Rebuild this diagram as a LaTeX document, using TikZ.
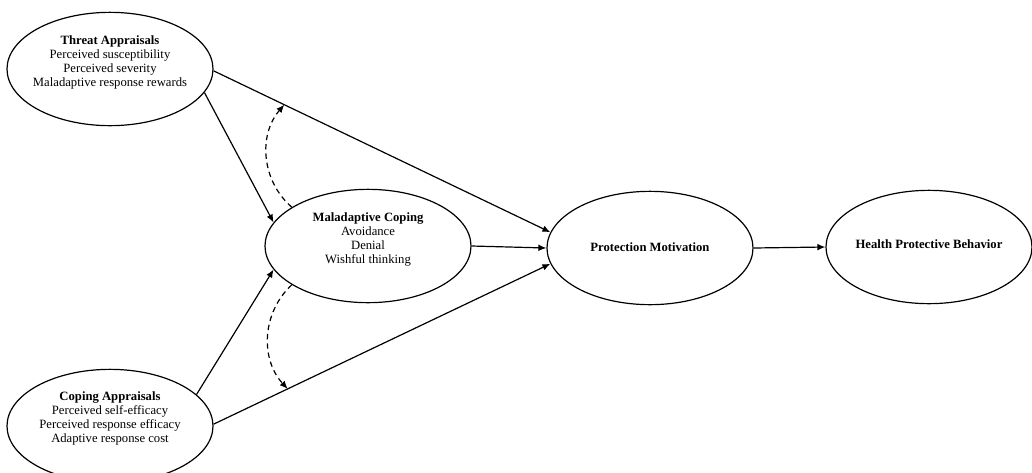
\documentclass[tikz,border=0pt]{standalone}
\usepackage{fontspec}
\setmainfont{Liberation Serif}
\usetikzlibrary{shapes.geometric,arrows.meta}
\begin{document}
\begin{tikzpicture}[x=0.75pt,y=-0.75pt,
  ell/.style={draw,ellipse,line width=0.9pt,minimum width=154.5pt,minimum height=85pt,inner sep=0pt},
  lbl/.style={align=center,font=\fontsize{9.5}{10.5}\selectfont,inner sep=0pt},
  arr/.style={line width=0.9pt,-{Latex[length=6pt,width=5pt]}},
  darr/.style={arr,dash pattern=on 4pt off 3pt}]
\useasboundingbox (0,0) rectangle (1032,472);
\clip (0,0) rectangle (1032,472);
% ellipses
\node[ell] (threat) at (110,69) {};
\node[ell] (malad) at (368,246) {};
\node[ell] (coping) at (110,426) {};
\node[ell] (prot) at (650,248) {};
\node[ell] (health) at (929,247) {};
% texts
\node[lbl] (threatT) at (110,62) {\textbf{Threat Appraisals}\\Perceived susceptibility\\Perceived severity\\Maladaptive response rewards};
\node[lbl] (maladT) at (368,239.5) {\textbf{Maladaptive Coping}\\Avoidance\\Denial\\Wishful thinking};
\node[lbl] (copingT) at (110,418) {\textbf{Coping Appraisals}\\Perceived self-efficacy\\Perceived response efficacy\\Adaptive response cost};
\node[lbl] (protT) at (650,247) {\textbf{Protection Motivation}};
\node[lbl] (healthT) at (929,244) {\textbf{Health Protective Behavior}};
% arrows
\draw[arr] (threat.-14) -- (malad.166);
\draw[arr] (threat.-1) -- coordinate[pos=0.21] (tp) (prot.171);
\draw[arr] (malad.east) -- (prot.west);
\draw[arr] (coping.20) -- (malad.-166);
\draw[arr] (coping.1) -- coordinate[pos=0.22] (cp) (prot.189);
\draw[arr] (prot.east) -- (health.west);
% dashed curved arrows
\draw[darr] (malad.153) to[bend left=45] (tp);
\draw[darr] (malad.207) to[bend right=45] (cp);
\end{tikzpicture}
\end{document}
